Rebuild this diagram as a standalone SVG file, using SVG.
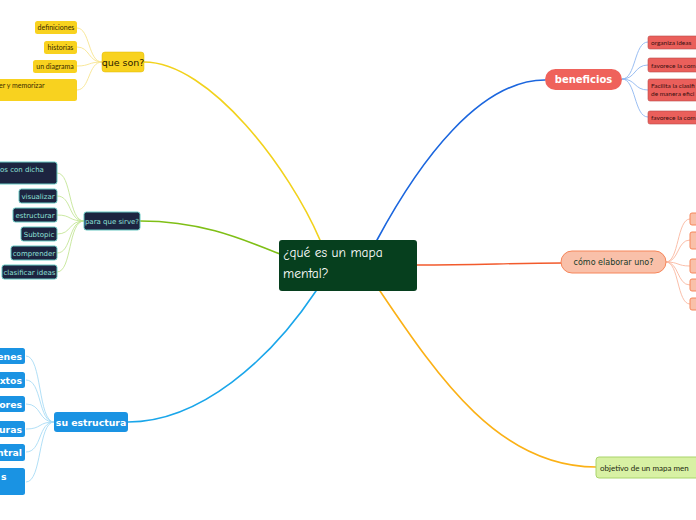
<svg xmlns="http://www.w3.org/2000/svg" width="696" height="520" viewBox="0 0 696 520">
<style>
.c{fill:none;stroke-linecap:round}
.sm{font-family:"Lato","Open Sans",sans-serif;font-size:7px;fill:#3a2c00}
.nv{fill:#1d2440;stroke:#67c8c2;stroke-width:1}
.nvt{font-family:"DejaVu Sans",sans-serif;font-size:7px;fill:#8fe0d8}
.bl{fill:#1a93e3}
.blt{font-family:"DejaVu Sans",sans-serif;font-size:9.3px;font-weight:bold;fill:#fff}
.rd{fill:#ea5f5b;stroke:#b84a4a;stroke-width:0.6}
.rdt{font-family:"Lato","Open Sans",sans-serif;font-size:6.5px;fill:#3a1010}
.yl{fill:#f8d21f}
.sa{fill:#f9c0a9;stroke:#f6865a;stroke-width:1}
</style>
<g id="connectors">
<path class="c" d="M320,240 C290,170 210,62 144,62" stroke="#f2d21c" stroke-width="1.6"/>
<path class="c" d="M140,221 C200,221 240,238 280,254" stroke="#7fbf16" stroke-width="1.6"/>
<path class="c" d="M377,240 C420,160 480,80 545,80" stroke="#1b66de" stroke-width="1.6"/>
<path class="c" d="M128,422 C200,422 270,360 316,291" stroke="#1aa6ea" stroke-width="1.6"/>
<path class="c" d="M417,265 C480,265 510,263 563,263" stroke="#f25a2c" stroke-width="1.4"/>
<path class="c" d="M380,291 C440,380 500,467 596,467" stroke="#fbb116" stroke-width="1.6"/>
<g stroke="#f7e48e" stroke-width="0.9" fill="none">
<path d="M102,62 C88,62 90,28 77,28"/>
<path d="M102,62 C88,62 90,47 77,47"/>
<path d="M102,62 C88,62 90,66 77,66"/>
<path d="M102,62 C88,62 90,90 77,90"/>
</g>
<g stroke="#c4e596" stroke-width="0.9" fill="none">
<path d="M84,221 C68,221 72,173 57,173"/>
<path d="M84,221 C68,221 72,196 57,196"/>
<path d="M84,221 C68,221 72,215 57,215"/>
<path d="M84,221 C68,221 72,234 57,234"/>
<path d="M84,221 C68,221 72,253 57,253"/>
<path d="M84,221 C68,221 72,272 57,272"/>
</g>
<g stroke="#a8dbf5" stroke-width="0.9" fill="none">
<path d="M54,422 C38,422 42,356 26,356"/>
<path d="M54,422 C38,422 42,380 26,380"/>
<path d="M54,422 C38,422 42,404 26,404"/>
<path d="M54,422 C38,422 42,429 26,429"/>
<path d="M54,422 C38,422 42,452 26,452"/>
<path d="M54,422 C38,422 42,482 26,482"/>
</g>
<g stroke="#8fb7f0" stroke-width="0.9" fill="none">
<path d="M622,79 C636,79 634,42 648,42"/>
<path d="M622,79 C636,79 634,65 648,65"/>
<path d="M622,79 C636,79 634,90 648,90"/>
<path d="M622,79 C636,79 634,117 648,117"/>
</g>
<g stroke="#f9b8a0" stroke-width="0.9" fill="none">
<path d="M666,262 C679,262 677,219 690,219"/>
<path d="M666,262 C679,262 677,240 690,240"/>
<path d="M666,262 C679,262 677,266 690,266"/>
<path d="M666,262 C679,262 677,285 690,285"/>
<path d="M666,262 C679,262 677,304 690,304"/>
</g>
</g>
<g id="center">
<rect x="279" y="240" width="138" height="51" rx="3" fill="#063f1e"/>
<text font-family="'Comic Neue','DejaVu Sans',sans-serif" font-size="13.5" fill="#fff"><tspan x="283" y="257">¿qué es un mapa</tspan><tspan x="283" y="278">mental?</tspan></text>
</g>
<g id="que-son">
<rect x="102" y="52" width="42" height="20" rx="3" class="yl" stroke="#e0b800" stroke-width="0.5"/>
<text x="123" y="66" text-anchor="middle" font-family="'DejaVu Sans',sans-serif" font-size="9.5" fill="#2a2000">que son?</text>
</g>
<g id="definiciones"><rect x="35" y="21" width="42" height="13" rx="2.5" class="yl"/><text x="56" y="30" text-anchor="middle" class="sm">definiciones</text></g>
<g id="historias"><rect x="44" y="41" width="33" height="13" rx="2.5" class="yl"/><text x="60.5" y="50" text-anchor="middle" class="sm">historias</text></g>
<g id="un-diagrama"><rect x="33" y="60" width="44" height="13" rx="2.5" class="yl"/><text x="55" y="69" text-anchor="middle" class="sm">un diagrama</text></g>
<g id="memorizar"><rect x="-10" y="79" width="87" height="22" rx="2.5" class="yl"/><text x="-1" y="88" class="sm">er y memorizar</text></g>
<g id="para-que-sirve">
<rect x="84" y="212" width="56" height="18" rx="2.5" class="nv"/>
<text x="112" y="224" text-anchor="middle" class="nvt">para que sirve?</text>
</g>
<g id="con-dicha"><rect x="-10" y="162" width="67" height="22" rx="2.5" class="nv"/><text x="0" y="172" class="nvt">os con dicha</text></g>
<g id="visualizar"><rect x="19" y="189" width="38" height="14" rx="2.5" class="nv"/><text x="38" y="199" text-anchor="middle" class="nvt">visualizar</text></g>
<g id="estructurar"><rect x="13" y="208" width="44" height="14" rx="2.5" class="nv"/><text x="35" y="218" text-anchor="middle" class="nvt">estructurar</text></g>
<g id="subtopic"><rect x="21" y="227" width="36" height="14" rx="2.5" class="nv"/><text x="39" y="237" text-anchor="middle" class="nvt">Subtopic</text></g>
<g id="comprender"><rect x="11" y="246" width="46" height="14" rx="2.5" class="nv"/><text x="34" y="256" text-anchor="middle" class="nvt">comprender</text></g>
<g id="clasificar"><rect x="2" y="265" width="55" height="14" rx="2.5" class="nv"/><text x="29.5" y="275" text-anchor="middle" class="nvt">clasificar ideas</text></g>
<g id="su-estructura">
<rect x="54" y="412" width="74" height="20" rx="3" class="bl"/>
<text x="91" y="425.5" text-anchor="middle" class="blt" font-size="9">su estructura</text>
</g>
<g id="s1"><rect x="-10" y="348" width="35" height="16" rx="2.5" class="bl"/><text x="22" y="359.5" text-anchor="end" class="blt">enes</text></g>
<g id="s2"><rect x="-10" y="372" width="35" height="16" rx="2.5" class="bl"/><text x="22" y="383.5" text-anchor="end" class="blt">xtos</text></g>
<g id="s3"><rect x="-10" y="396" width="35" height="16" rx="2.5" class="bl"/><text x="22" y="407.5" text-anchor="end" class="blt">ores</text></g>
<g id="s4"><rect x="-10" y="421" width="35" height="16" rx="2.5" class="bl"/><text x="22" y="432.5" text-anchor="end" class="blt">uras</text></g>
<g id="s5"><rect x="-10" y="444" width="35" height="17" rx="2.5" class="bl"/><text x="22" y="456" text-anchor="end" class="blt">ntral</text></g>
<g id="s6"><rect x="-10" y="468" width="35" height="27" rx="2.5" class="bl"/><text x="1" y="480" class="blt">s</text></g>
<g id="beneficios">
<rect x="545" y="69" width="77" height="21" rx="10.5" fill="#ef625b"/>
<text x="583.5" y="83" text-anchor="middle" font-family="'DejaVu Sans',sans-serif" font-size="10" font-weight="bold" fill="#fff">beneficios</text>
</g>
<g id="b1"><rect x="648" y="36" width="60" height="13" rx="2" class="rd"/><text x="651" y="45" class="rdt">organiza ideas</text></g>
<g id="b2"><rect x="648" y="58" width="60" height="14" rx="2" class="rd"/><text x="651" y="67.5" class="rdt">favorece la com</text></g>
<g id="b3"><rect x="648" y="79" width="60" height="22" rx="2" class="rd"/><text class="rdt"><tspan x="651" y="88">Facilita la clasifi</tspan><tspan x="651" y="96">de manera efici</tspan></text></g>
<g id="b4"><rect x="648" y="111" width="60" height="13" rx="2" class="rd"/><text x="651" y="120" class="rdt">favorece la com</text></g>
<g id="como">
<rect x="561" y="251" width="105" height="22" rx="11" class="sa"/>
<text x="613.5" y="265" text-anchor="middle" font-family="'DejaVu Sans',sans-serif" font-size="8" fill="#163a28">cómo elaborar uno?</text>
</g>
<g id="c1"><rect x="690" y="213" width="20" height="12" rx="2" class="sa"/></g>
<g id="c2"><rect x="690" y="232" width="20" height="17" rx="2" class="sa"/></g>
<g id="c3"><rect x="690" y="259" width="20" height="14" rx="2" class="sa"/></g>
<g id="c4"><rect x="690" y="279" width="20" height="12" rx="2" class="sa"/></g>
<g id="c5"><rect x="690" y="298" width="20" height="12" rx="2" class="sa"/></g>
<g id="objetivo">
<rect x="596" y="457" width="120" height="21" rx="3" fill="#d8f1a4" stroke="#a9d46b" stroke-width="1"/>
<text x="600" y="470.5" font-family="'Lato','Open Sans',sans-serif" font-size="8" fill="#1e2a10">objetivo de un mapa men</text>
</g>
</svg>
